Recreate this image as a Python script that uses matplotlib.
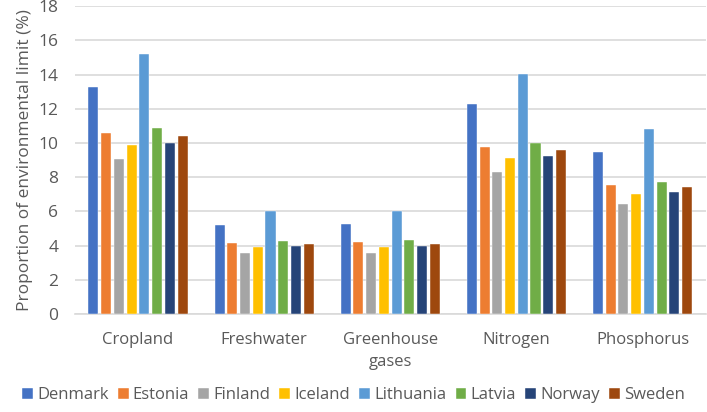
import numpy as np
from matplotlib import pyplot as plt

plt.rcParams['font.family'] = ['Open Sans', 'DejaVu Sans']

categories = ['Cropland', 'Freshwater', 'Greenhouse\ngases', 'Nitrogen', 'Phosphorus']
countries = ['Denmark', 'Estonia', 'Finland', 'Iceland',
             'Lithuania', 'Latvia', 'Norway', 'Sweden']

denmark = [13.3, 5.2, 5.25, 12.27, 9.48]
estonia = [10.6, 4.15, 4.2, 9.79, 7.57]
finland = [9.05, 3.55, 3.55, 8.31, 6.42]
iceland = [9.9, 3.9, 3.9, 9.13, 7.04]
lithuania = [15.2, 6.0, 6.0, 14.02, 10.84]
latvia = [10.85, 4.25, 4.3, 9.99, 7.72]
norway = [10.0, 3.95, 3.95, 9.24, 7.14]
sweden = [10.4, 4.1, 4.1, 9.6, 7.41]

series = [denmark, estonia, finland, iceland, lithuania, latvia, norway, sweden]
colors = ['#4472C4', '#ED7D31', '#A5A5A5', '#FFC000',
          '#5B9BD5', '#70AD47', '#264478', '#9E480E']

fig = plt.figure(figsize=(7.07, 4.12), dpi=100)
ax = fig.add_axes([0.106, 0.238, 0.892, 0.747])

x = np.arange(len(categories))
slot = 0.101
for i, (name, vals, c) in enumerate(zip(countries, series, colors)):
    ax.bar(x + (i - 3.5) * slot, vals, width=0.08, color=c, label=name,
           edgecolor='white', linewidth=0.3, zorder=3)

ax.set_xlim(-0.5, 4.5)
ax.set_ylim(0, 18)
ax.set_yticks(range(0, 19, 2))
ax.grid(axis='y', color='#D9D9D9', linewidth=1.2, zorder=0)
for s in ['top', 'right', 'left']:
    ax.spines[s].set_visible(False)
ax.spines['bottom'].set_color('#D9D9D9')
ax.spines['bottom'].set_linewidth(1.2)
ax.set_xticks(x)
ax.set_xticklabels(categories, fontsize=12, color='#595959', linespacing=1.5)
ax.tick_params(axis='both', length=0, colors='#595959', labelsize=12.5)
ax.tick_params(axis='x', pad=13, labelsize=12)
ax.tick_params(axis='y', pad=12)
ax.set_ylabel('Proportion of environmental limit (%)', fontsize=12.5,
              color='#595959', labelpad=4)

fig.legend(loc='lower center', ncol=8, frameon=False, fontsize=12,
           labelcolor='#595959', handlelength=0.65, handleheight=0.65,
           handletextpad=0.25, columnspacing=0.55, bbox_to_anchor=(0.5, -0.015))

fig.savefig('out.png', dpi=100)
